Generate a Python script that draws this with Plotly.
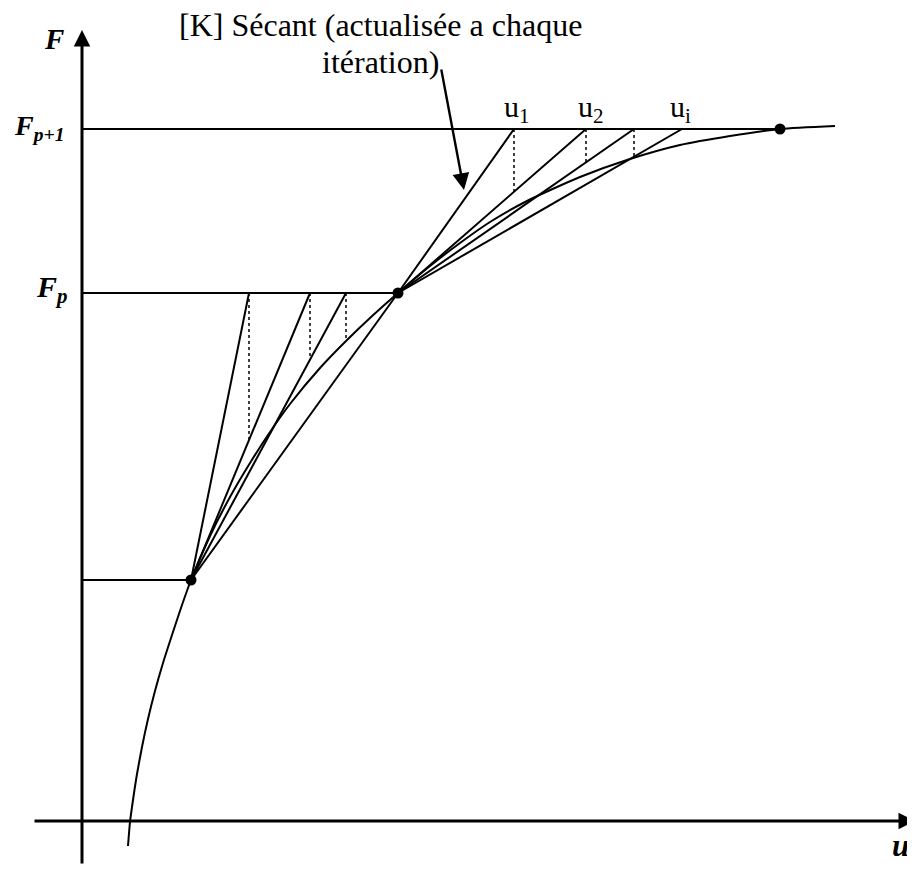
import plotly.graph_objects as go

# ---- data (u, F) ----
curve_u = [46, 48, 51, 55, 60, 66, 73, 81, 90, 100, 109, 128, 148, 168, 186, 208, 238, 264, 288, 316,
           348, 378, 408, 445, 498, 548, 598, 648, 698, 753]
curve_F = [-25, -1, 21, 47, 74, 102, 130, 158, 186, 216, 241, 285, 324, 358, 386, 417, 453, 480, 503, 528,
           555, 578, 599, 620, 644, 662, 676, 685, 692, 695]

pts_u = [109, 316, 698]
pts_F = [241, 528, 692]

level_names = ["F0", "Fp", "Fp1"]
level_F = [241, 528, 692]
level_end_u = [109, 316, 698]

# secants from P0 ending on Fp, and from P1 ending on Fp+1
sec_low_u = [167, 228, 264, 316]
sec_high_u = [432, 504, 552, 600]

# dotted verticals: u, bottom F (top is the level line)
dot_low_u = [167, 228, 264]
dot_low_bot = [382, 461, 480]
dot_high_u = [432, 504, 552]
dot_high_bot = [629, 659, 664]

iter_labels = ["u<sub>1</sub>", "u<sub>2</sub>", "u<sub>i</sub>"]
iter_label_u = [434.5, 509, 598]

SERIF = "Liberation Serif, Times New Roman, serif"
BLACK = "black"

fig = go.Figure()

# horizontal levels
for F, ue in zip(level_F, level_end_u):
    fig.add_trace(go.Scatter(x=[0, ue], y=[F, F], mode="lines",
                             line=dict(color=BLACK, width=2), hoverinfo="skip"))

# secants
for ue in sec_low_u:
    fig.add_trace(go.Scatter(x=[pts_u[0], ue], y=[pts_F[0], level_F[1]], mode="lines",
                             line=dict(color=BLACK, width=2), hoverinfo="skip"))
for ue in sec_high_u:
    fig.add_trace(go.Scatter(x=[pts_u[1], ue], y=[pts_F[1], level_F[2]], mode="lines",
                             line=dict(color=BLACK, width=2), hoverinfo="skip"))

# dotted verticals
for u, b in zip(dot_low_u, dot_low_bot):
    fig.add_trace(go.Scatter(x=[u, u], y=[level_F[1], b], mode="lines",
                             line=dict(color=BLACK, width=1.5, dash="dot"), hoverinfo="skip"))
for u, b in zip(dot_high_u, dot_high_bot):
    fig.add_trace(go.Scatter(x=[u, u], y=[level_F[2], b], mode="lines",
                             line=dict(color=BLACK, width=1.5, dash="dot"), hoverinfo="skip"))

# curve
fig.add_trace(go.Scatter(x=curve_u, y=curve_F, mode="lines",
                         line=dict(color=BLACK, width=2, shape="spline", smoothing=0.6),
                         hoverinfo="skip"))

# points
fig.add_trace(go.Scatter(x=pts_u, y=pts_F, mode="markers",
                         marker=dict(color=BLACK, size=11), hoverinfo="skip"))

annotations = []
# axes arrows
annotations.append(dict(x=0, y=791, ax=0, ay=-44, xref="x", yref="y", axref="x", ayref="y",
                        showarrow=True, arrowhead=2, arrowsize=1.1, arrowwidth=3, arrowcolor=BLACK, text=""))
annotations.append(dict(x=833, y=0, ax=-49, ay=0, xref="x", yref="y", axref="x", ayref="y",
                        showarrow=True, arrowhead=2, arrowsize=1.1, arrowwidth=3, arrowcolor=BLACK, text=""))
# secant pointer arrow
annotations.append(dict(x=382, y=631, ax=359, ay=753, xref="x", yref="y", axref="x", ayref="y",
                        showarrow=True, arrowhead=2, arrowsize=1.4, arrowwidth=2.4, arrowcolor=BLACK, text=""))

# texts
annotations.append(dict(x=298, y=796, xref="x", yref="y", showarrow=False,
                        text="[K] Sécant (actualisée a chaque",
                        font=dict(family=SERIF, size=32, color=BLACK), xanchor="center", yanchor="middle"))
annotations.append(dict(x=298, y=759, xref="x", yref="y", showarrow=False,
                        text="itération)",
                        font=dict(family=SERIF, size=32, color=BLACK), xanchor="center", yanchor="middle"))
annotations.append(dict(x=-28, y=782, xref="x", yref="y", showarrow=False,
                        text="<b><i>F</i></b>",
                        font=dict(family=SERIF, size=29, color=BLACK), xanchor="center", yanchor="middle"))
annotations.append(dict(x=-16, y=694, xref="x", yref="y", showarrow=False,
                        text="<b><i>F<sub>p+1</sub></i></b>",
                        font=dict(family=SERIF, size=28, color=BLACK), xanchor="right", yanchor="middle"))
annotations.append(dict(x=-12, y=532, xref="x", yref="y", showarrow=False,
                        text="<b><i>F<sub>p</sub></i></b>",
                        font=dict(family=SERIF, size=30, color=BLACK), xanchor="right", yanchor="middle"))
annotations.append(dict(x=818, y=-24, xref="x", yref="y", showarrow=False,
                        text="<b><i>u</i></b>",
                        font=dict(family=SERIF, size=31, color=BLACK), xanchor="center", yanchor="middle"))
for lab, u in zip(iter_labels, iter_label_u):
    annotations.append(dict(x=u, y=712, xref="x", yref="y", showarrow=False, text=lab,
                            font=dict(family=SERIF, size=30, color=BLACK),
                            xanchor="center", yanchor="middle"))

# page body has an 8px margin: shift the ranges so the visible window matches
fig.update_layout(
    width=915, height=870,
    margin=dict(l=0, r=0, t=0, b=0),
    paper_bgcolor="white", plot_bgcolor="white",
    showlegend=False,
    xaxis=dict(range=[-74, 841], visible=False, fixedrange=True),
    yaxis=dict(range=[-57, 813], visible=False, fixedrange=True),
    annotations=annotations,
)

fig.write_html("out.html")
